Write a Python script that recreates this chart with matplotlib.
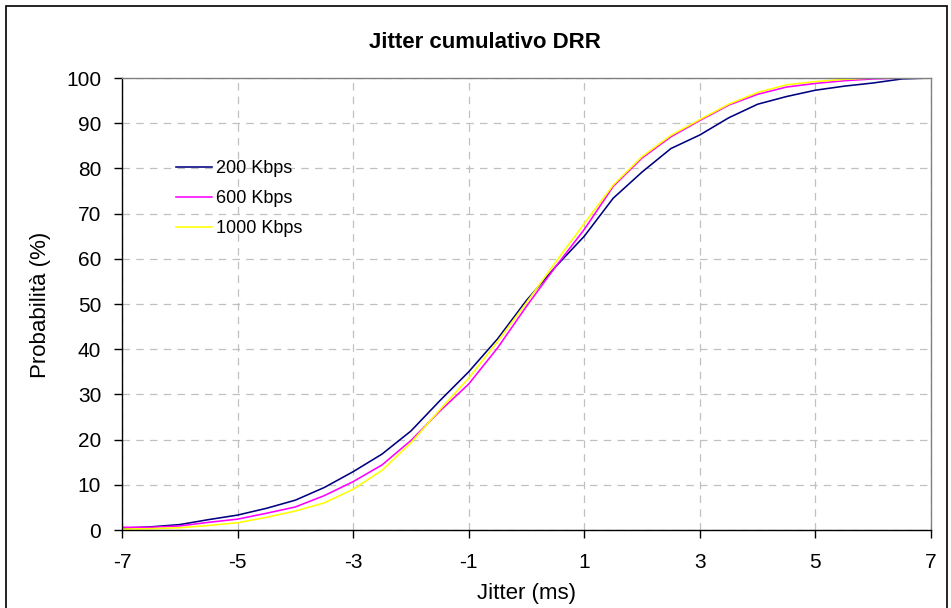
import matplotlib
matplotlib.use("Agg")
import matplotlib.pyplot as plt
from matplotlib.patches import Rectangle

# Cumulative jitter distribution for DRR scheduling at three rates
jitter_ms = [-7, -6.5, -6, -5.5, -5, -4.5, -4, -3.5, -3, -2.5, -2, -1.5, -1, -0.5,
             0, 0.5, 1, 1.5, 2, 2.5, 3, 3.5, 4, 4.5, 5, 5.5, 6, 6.5, 7]

prob_200 = [0.4, 0.7, 1.2, 2.3, 3.3, 4.8, 6.6, 9.4, 12.9, 16.8, 21.9, 28.6, 35.0, 42.3,
            50.8, 58.2, 65.0, 73.4, 79.2, 84.4, 87.4, 91.2, 94.2, 95.9, 97.3, 98.2, 98.9, 99.8, 100]
prob_600 = [0.6, 0.6, 0.9, 1.7, 2.4, 3.7, 5.1, 7.6, 10.7, 14.4, 19.8, 26.3, 32.3, 40.3,
            49.5, 58.2, 66.5, 76.0, 82.3, 87.0, 90.6, 94.0, 96.4, 98.0, 98.8, 99.4, 99.8, 100, 100]
prob_1000 = [0.2, 0.3, 0.5, 1.0, 1.6, 2.8, 4.2, 6.0, 9.0, 13.2, 19.3, 26.6, 33.6, 41.7,
             50.3, 59.2, 67.8, 76.3, 82.6, 87.3, 90.8, 94.2, 96.8, 98.5, 99.2, 99.7, 100, 100, 100]

series_labels = ["200 Kbps", "600 Kbps", "1000 Kbps"]
series_colors = ["#000080", "#FF00FF", "#FFFF00"]

x_ticks = [-7, -5, -3, -1, 1, 3, 5, 7]
y_ticks = list(range(0, 101, 10))

plt.rcParams["font.family"] = ["Liberation Sans", "DejaVu Sans"]

W, H = 951, 608
fig = plt.figure(figsize=(W / 100, H / 100), dpi=100)
fig.patch.set_facecolor("white")

left, right, top, bottom = 122, 931, 78, 530
ax = fig.add_axes([left / W, 1 - bottom / H, (right - left) / W, (bottom - top) / H])

for ys, lab, col in zip([prob_200, prob_600, prob_1000], series_labels, series_colors):
    ax.plot(jitter_ms, ys, color=col, lw=1.15, label=lab)

ax.set_xlim(-7, 7)
ax.set_ylim(0, 100)
ax.set_xticks(x_ticks)
ax.set_xticklabels([str(t) for t in x_ticks])
ax.set_yticks(y_ticks)

ax.grid(True, color="#c0c0c0", linestyle=(0, (6, 5)), linewidth=0.9)
ax.set_axisbelow(True)

for s in ["left", "bottom"]:
    ax.spines[s].set_color("black")
    ax.spines[s].set_linewidth(1.0)
for s in ["top", "right"]:
    ax.spines[s].set_color("#808080")
    ax.spines[s].set_linewidth(1.0)

ax.tick_params(axis="both", direction="out", length=5.5, width=1.0, color="black",
               labelsize=15)
ax.tick_params(axis="y", pad=9.5)
ax.tick_params(axis="x", pad=11)

leg = ax.legend(loc="upper left", bbox_to_anchor=(176 / W, 1 - 160 / H),
                bbox_transform=fig.transFigure, frameon=False, fontsize=13,
                handlelength=2.0, handletextpad=0.22, labelspacing=0.72,
                borderpad=0.0, borderaxespad=0.0)

fig.text(485 / W, 1 - 43 / H, "Jitter cumulativo DRR", ha="center", va="center",
         fontsize=16, fontweight="bold")
fig.text(526.5 / W, 1 - 593 / H, "Jitter (ms)", ha="center", va="center", fontsize=16)
fig.text(41 / W, 1 - 305 / H, "Probabilità (%)", ha="center", va="center",
         fontsize=16, rotation=90)

# Outer chart frame (open at the bottom edge of the canvas)
fig.patches.append(Rectangle((6 / W, -0.05), (947 - 6) / W, 1.05 - 6 / H,
                             transform=fig.transFigure, fill=False,
                             edgecolor="black", linewidth=1.2))

fig.savefig("out.png", dpi=100)
